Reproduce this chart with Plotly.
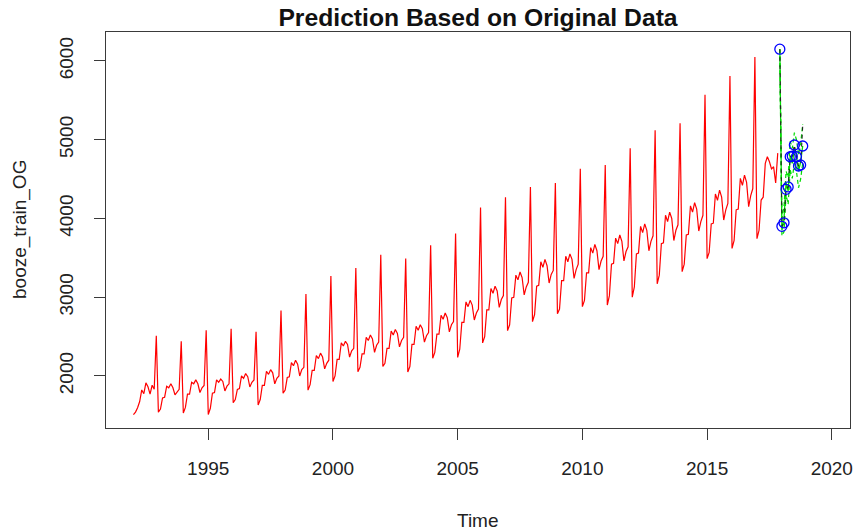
import plotly.graph_objects as go

# ---------------- data (monthly) ----------------
start_year = 1992
train = {
    1992: [1509, 1541, 1597, 1675, 1822, 1775, 1912, 1862, 1770, 1882, 1831, 2511],
    1993: [1540, 1580, 1720, 1730, 1870, 1850, 1900, 1850, 1760, 1800, 1830, 2440],
    1994: [1530, 1600, 1770, 1770, 1920, 1900, 1950, 1900, 1790, 1850, 1880, 2580],
    1995: [1510, 1590, 1780, 1790, 1950, 1920, 1960, 1930, 1810, 1870, 1900, 2600],
    1996: [1660, 1700, 1830, 1840, 2000, 1970, 2030, 1990, 1860, 1920, 1950, 2560],
    1997: [1630, 1700, 1880, 1880, 2060, 2020, 2080, 2040, 1900, 1970, 2000, 2830],
    1998: [1780, 1820, 1980, 1990, 2170, 2130, 2200, 2150, 2000, 2080, 2110, 3040],
    1999: [1820, 1890, 2070, 2070, 2260, 2220, 2290, 2240, 2090, 2160, 2200, 3270],
    2000: [1930, 2000, 2210, 2210, 2420, 2380, 2440, 2400, 2240, 2320, 2350, 3370],
    2001: [2055, 2110, 2280, 2280, 2490, 2450, 2520, 2470, 2300, 2390, 2430, 3540],
    2002: [2120, 2160, 2350, 2350, 2570, 2520, 2590, 2540, 2370, 2450, 2490, 3490],
    2003: [2050, 2120, 2400, 2400, 2630, 2580, 2650, 2600, 2430, 2510, 2550, 3660],
    2004: [2225, 2300, 2530, 2530, 2770, 2720, 2800, 2740, 2560, 2650, 2690, 3810],
    2005: [2235, 2340, 2680, 2680, 2940, 2880, 2960, 2900, 2710, 2800, 2850, 4140],
    2006: [2420, 2500, 2840, 2840, 3110, 3050, 3140, 3080, 2870, 2970, 3020, 4270],
    2007: [2575, 2650, 2990, 3000, 3280, 3220, 3320, 3250, 3030, 3130, 3190, 4400],
    2008: [2690, 2780, 3140, 3150, 3450, 3380, 3480, 3400, 3180, 3290, 3340, 4450],
    2009: [2790, 2850, 3210, 3210, 3520, 3450, 3550, 3480, 3240, 3350, 3420, 4630],
    2010: [2880, 2960, 3310, 3310, 3630, 3560, 3670, 3590, 3350, 3460, 3520, 4680],
    2011: [2900, 3020, 3420, 3430, 3750, 3680, 3790, 3710, 3460, 3580, 3640, 4890],
    2012: [3000, 3130, 3550, 3560, 3900, 3820, 3930, 3850, 3590, 3710, 3780, 5120],
    2013: [3170, 3280, 3680, 3690, 4040, 3960, 4080, 4000, 3720, 3850, 3920, 5210],
    2014: [3325, 3420, 3790, 3800, 4160, 4080, 4200, 4120, 3840, 3960, 4040, 5570],
    2015: [3490, 3570, 3930, 3940, 4310, 4230, 4360, 4270, 3980, 4110, 4190, 5810],
    2016: [3620, 3720, 4110, 4120, 4510, 4420, 4550, 4460, 4150, 4290, 4380, 6050],
    2017: [3744, 3850, 4234, 4270, 4700, 4784, 4720, 4630, 4657, 4450, 4830],
}

# test period: Dec 2017 .. Nov 2018
test_start = (2017, 12)
test_vals = [6150, 3900, 3945, 4370, 4400, 4784, 4790, 4933, 4784, 4666, 4679, 5170]
pred_vals = [6150, 3850, 3990, 4450, 4350, 4800, 4700, 4900, 4800, 4600, 4720, 4920]
upper_vals = [6150, 4000, 4150, 4600, 4520, 4980, 4890, 5090, 5000, 4810, 4940, 5200]
lower_vals = [6150, 3780, 3830, 4300, 4180, 4620, 4510, 4710, 4600, 4390, 4500, 4700]
circle_vals = [6150, 3900, 3945, 4370, 4400, 4784, 4790, 4933, 4784, 4666, 4679, 4920]

x_ticks = [1995, 2000, 2005, 2010, 2015, 2020]
y_ticks = [2000, 3000, 4000, 5000, 6000]

# ---------------- build time index ----------------
train_x, train_y = [], []
for yr, vals in train.items():
    for m, v in enumerate(vals):
        train_x.append(yr + m / 12)
        train_y.append(v)

ty, tm = test_start
test_x = [ty + (tm - 1 + k) / 12 for k in range(len(test_vals))]

axis_col = "#3a3a3a"
text_col = "#222222"
font_fam = "Liberation Sans, Arial, sans-serif"

fig = go.Figure()
fig.add_trace(go.Scatter(x=train_x, y=train_y, mode="lines",
                         line=dict(color="#ff0000", width=1.2)))
fig.add_trace(go.Scatter(x=test_x, y=pred_vals, mode="lines",
                         line=dict(color="#00dd00", width=1.3)))
fig.add_trace(go.Scatter(x=test_x, y=upper_vals, mode="lines",
                         line=dict(color="#00dd00", width=1.2, dash="4px,3px")))
fig.add_trace(go.Scatter(x=test_x, y=lower_vals, mode="lines",
                         line=dict(color="#00dd00", width=1.2, dash="4px,3px")))
fig.add_trace(go.Scatter(x=test_x, y=test_vals, mode="lines",
                         line=dict(color="#222222", width=1.1, dash="4px,4px")))
fig.add_trace(go.Scatter(x=test_x, y=circle_vals, mode="markers",
                         marker=dict(symbol="circle-open", size=10, color="#0000ff",
                                     line=dict(width=1.3, color="#0000ff"))))

fig.update_layout(
    width=859, height=531,
    margin=dict(l=106, r=9, t=32, b=103, autoexpand=False),
    paper_bgcolor="white", plot_bgcolor="white",
    showlegend=False,
    font=dict(family=font_fam, color=text_col),
    title=dict(text="<b>Prediction Based on Original Data</b>",
               x=0.5, xref="paper", xanchor="center",
               y=1 - 17 / 531, yref="container", yanchor="middle",
               font=dict(size=24.7, color="#111111", family=font_fam)),
    annotations=[
        dict(text="Time", xref="paper", yref="paper", x=0.5, y=(428 - 520) / 396,
             xanchor="center", yanchor="middle", showarrow=False,
             font=dict(size=19, color=text_col, family=font_fam)),
        dict(text="booze_train_OG", xref="paper", yref="paper", x=(20 - 106) / 744, y=0.5,
             xanchor="center", yanchor="middle", showarrow=False, textangle=-90,
             font=dict(size=19, color=text_col, family=font_fam)),
    ],
)
fig.update_xaxes(range=[1990.9, 2020.73], tickmode="array", tickvals=x_ticks,
                 ticktext=[str(v) for v in x_ticks], automargin=False,
                 ticks="outside", ticklen=11, tickwidth=1, tickcolor=axis_col,
                 showline=True, linecolor=axis_col, linewidth=1, mirror=True,
                 showgrid=False, zeroline=False,
                 tickfont=dict(size=19, color=text_col), ticklabelstandoff=12)
fig.update_yaxes(range=[1339, 6368], tickmode="array", tickvals=y_ticks,
                 ticktext=[str(v) for v in y_ticks], tickangle=-90, automargin=False,
                 ticks="outside", ticklen=11, tickwidth=1, tickcolor=axis_col,
                 showline=True, linecolor=axis_col, linewidth=1, mirror=True,
                 showgrid=False, zeroline=False,
                 tickfont=dict(size=19, color=text_col), ticklabelstandoff=13)

fig.write_html("out.html")
